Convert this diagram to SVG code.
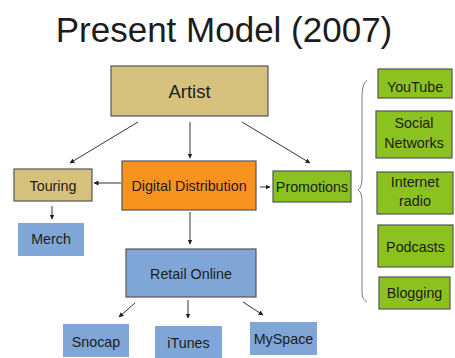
<svg xmlns="http://www.w3.org/2000/svg" width="455" height="358" viewBox="0 0 455 358">
  <defs>
    <marker id="arrow" viewBox="0 0 10 10" refX="9" refY="5" markerWidth="5" markerHeight="5" orient="auto">
      <path d="M0,0 L10,5 L0,10 z" fill="#222"/>
    </marker>
  </defs>
  <style>
    text { font-family: "Liberation Sans", Arial, sans-serif; fill: #1c1c1c; text-anchor: middle; }
    .lbl { font-size: 14.3px; }
    .tan { fill: #d6c27d; stroke: #555; stroke-width: 1.2; }
    .orange { fill: #f7931e; stroke: #555; stroke-width: 1.2; }
    .green { fill: #8cc21f; stroke: #555; stroke-width: 1.2; }
    .blue { fill: #7fa6d6; stroke: #555; stroke-width: 1.2; }
    .blue-flat { fill: #7fa6d6; }
    .edge { stroke: #333; stroke-width: 1; fill: none; marker-end: url(#arrow); }
  </style>

  <rect width="455" height="358" fill="#ffffff"/>

  <text x="224" y="42" style="font-size:35px">Present Model (2007)</text>

  <g id="connectors">
    <line class="edge" x1="138" y1="122" x2="70" y2="163"/>
    <line class="edge" x1="190" y1="122" x2="190" y2="158"/>
    <line class="edge" x1="242" y1="122" x2="310" y2="163"/>
    <line class="edge" x1="121" y1="183" x2="94" y2="183"/>
    <line class="edge" x1="260" y1="187" x2="270" y2="187"/>
    <line class="edge" x1="52" y1="206" x2="52" y2="219"/>
    <line class="edge" x1="190" y1="212" x2="190" y2="244"/>
    <line class="edge" x1="135" y1="303" x2="119" y2="317"/>
    <line class="edge" x1="188" y1="300" x2="188" y2="318"/>
    <line class="edge" x1="243" y1="302" x2="263" y2="315"/>
    <!-- curly brace grouping the promotion channels -->
    <path d="M367,80 C362,84 362,92 362,104 L362,178 C362,184 361,188 358,190 C361,192 362,196 362,202 L362,292 C362,298 364,300 367,302" stroke="#777" stroke-width="1" fill="none"/>
  </g>

  <g id="artist">
    <rect class="tan" x="111" y="66" width="157" height="50"/>
    <text x="189.5" y="98" style="font-size:18.5px">Artist</text>
  </g>

  <g id="touring">
    <rect class="tan" x="14" y="169" width="78" height="32"/>
    <text class="lbl" x="53" y="191">Touring</text>
  </g>

  <g id="digital-distribution">
    <rect class="orange" x="122" y="161" width="134" height="49"/>
    <text class="lbl" x="189" y="191">Digital Distribution</text>
  </g>

  <g id="promotions">
    <rect class="green" x="273" y="171" width="78" height="31"/>
    <text class="lbl" x="312" y="192">Promotions</text>
  </g>

  <g id="merch">
    <rect class="blue-flat" x="18" y="223" width="66" height="33"/>
    <text class="lbl" x="51" y="244">Merch</text>
  </g>

  <g id="retail-online">
    <rect class="blue" x="126" y="249" width="130" height="48"/>
    <text class="lbl" x="191" y="279">Retail Online</text>
  </g>

  <g id="snocap">
    <rect class="blue-flat" x="63" y="324" width="66" height="33"/>
    <text class="lbl" x="96" y="347">Snocap</text>
  </g>

  <g id="itunes">
    <rect class="blue-flat" x="155" y="326" width="67" height="32"/>
    <text class="lbl" x="188.5" y="348">iTunes</text>
  </g>

  <g id="myspace">
    <rect class="blue-flat" x="250" y="322" width="67" height="33"/>
    <text class="lbl" x="283.5" y="344">MySpace</text>
  </g>

  <g id="youtube">
    <rect class="green" x="378" y="69" width="74" height="29"/>
    <text class="lbl" x="415" y="92">YouTube</text>
  </g>

  <g id="social-networks">
    <rect class="green" x="376" y="111" width="76" height="47"/>
    <text class="lbl" x="414" y="128">Social</text>
    <text class="lbl" x="414" y="148">Networks</text>
  </g>

  <g id="internet-radio">
    <rect class="green" x="377" y="172" width="76" height="42"/>
    <text class="lbl" x="415" y="187">Internet</text>
    <text class="lbl" x="415" y="206">radio</text>
  </g>

  <g id="podcasts">
    <rect class="green" x="378" y="225" width="75" height="42"/>
    <text class="lbl" x="415.5" y="252">Podcasts</text>
  </g>

  <g id="blogging">
    <rect class="green" x="379" y="277" width="71" height="32"/>
    <text class="lbl" x="414.5" y="298">Blogging</text>
  </g>
</svg>
